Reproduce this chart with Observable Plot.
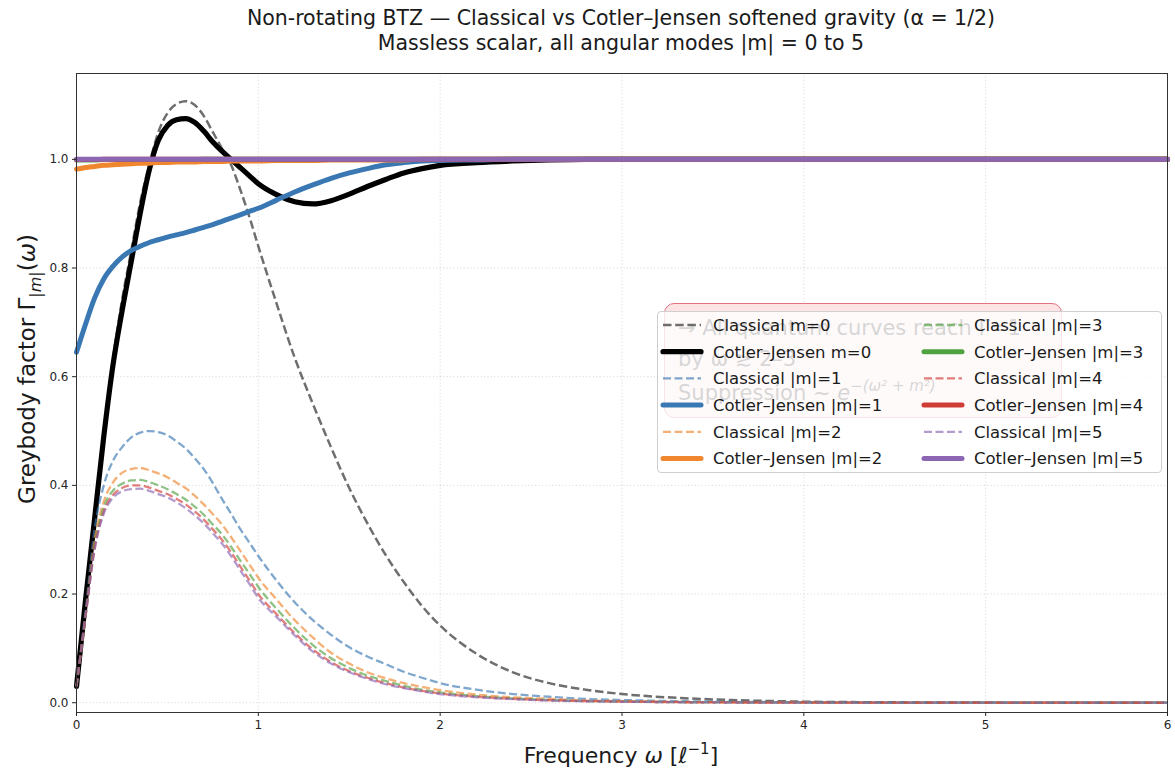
<!DOCTYPE html>
<html><head><meta charset="utf-8">
<script src="https://cdn.jsdelivr.net/npm/d3@7"></script>
<script src="https://cdn.jsdelivr.net/npm/@observablehq/plot@0.6"></script>
<style>
body{margin:0;background:#fff;font-family:"DejaVu Sans",sans-serif}
#wrap{position:relative;width:1175px;height:775px;overflow:hidden}
#note{position:absolute;left:664px;top:303px;width:398px;height:115px;border:1.5px solid #e07482;border-radius:10px;background:#fde3e3;box-sizing:border-box}
#legend{position:absolute;left:657px;top:311px;width:505px;height:162px;box-sizing:border-box;border:1px solid #cfcfcf;border-radius:4px;background:rgba(255,255,255,0.8)}
</style></head>
<body><div id="wrap"></div>
<script>
// ---------- data ----------
const omega = [0,0.05,0.1,0.15,0.2,0.25,0.3,0.35,0.4,0.45,0.5,0.55,0.6,0.65,0.7,0.75,0.8,0.85,0.9,0.95,1.0,1.1,1.2,1.3,1.4,1.5,1.6,1.7,1.8,1.9,2.0,2.2,2.4,2.6,2.8,3.0,3.3,3.6,4.0,4.5,5.0,6.0];

const classicalM0 = [0.03,0.19,0.35,0.50,0.63,0.74,0.83,0.92,0.99,1.05,1.085,1.102,1.107,1.100,1.08,1.05,1.02,0.99,0.945,0.895,0.84,0.735,0.635,0.55,0.47,0.395,0.33,0.272,0.222,0.178,0.142,0.09,0.056,0.036,0.024,0.016,0.009,0.005,0.002,0.0007,0.0002,0.0];
const cjM0 = [0.03,0.19,0.34,0.49,0.62,0.72,0.81,0.90,0.98,1.035,1.062,1.073,1.075,1.068,1.052,1.032,1.015,1.0,0.985,0.97,0.955,0.935,0.922,0.918,0.924,0.936,0.95,0.963,0.975,0.983,0.989,0.994,0.997,0.999,1.0,1.0,1.0,1.0,1.0,1.0,1.0,1.0];

const classicalM1 = [0.03,0.17,0.32,0.40,0.445,0.47,0.488,0.497,0.50,0.498,0.492,0.481,0.468,0.45,0.43,0.404,0.375,0.348,0.32,0.295,0.27,0.225,0.185,0.152,0.125,0.102,0.085,0.071,0.057,0.046,0.036,0.024,0.016,0.011,0.007,0.005,0.003,0.0018,0.001,0.0004,0.0002,0.0];
const cjM1 = [0.645,0.697,0.745,0.78,0.803,0.82,0.832,0.84,0.847,0.852,0.857,0.861,0.865,0.87,0.875,0.88,0.886,0.892,0.898,0.904,0.91,0.925,0.94,0.953,0.965,0.975,0.983,0.99,0.994,0.997,0.998,0.999,1.0,1.0,1.0,1.0,1.0,1.0,1.0,1.0,1.0,1.0];

const classicalM2 = [0.03,0.16,0.30,0.37,0.405,0.423,0.43,0.432,0.428,0.422,0.415,0.405,0.395,0.381,0.365,0.347,0.328,0.305,0.28,0.255,0.23,0.19,0.152,0.12,0.092,0.072,0.056,0.045,0.036,0.029,0.023,0.015,0.010,0.007,0.004,0.003,0.0015,0.0008,0.0004,0.0001,0.0,0.0];
const cjM2 = [0.982,0.985,0.987,0.989,0.990,0.991,0.992,0.993,0.993,0.994,0.994,0.995,0.995,0.995,0.996,0.996,0.996,0.997,0.997,0.997,0.997,0.998,0.998,0.998,0.999,0.999,0.999,0.999,0.999,1.0,1.0,1.0,1.0,1.0,1.0,1.0,1.0,1.0,1.0,1.0,1.0,1.0];

const classicalM3 = [0.03,0.16,0.29,0.36,0.39,0.403,0.409,0.41,0.406,0.40,0.393,0.384,0.374,0.361,0.346,0.328,0.31,0.287,0.262,0.238,0.213,0.173,0.137,0.106,0.082,0.064,0.05,0.04,0.031,0.024,0.019,0.012,0.008,0.005,0.003,0.002,0.001,0.0005,0.0002,0.0,0.0,0.0];
const cjM3 = [0.999,0.999,0.999,0.9995,0.9995,0.9995,0.9997,0.9997,0.9998,0.9998,0.9999,0.9999,0.9999,0.9999,1.0,1.0,1.0,1.0,1.0,1.0,1.0,1.0,1.0,1.0,1.0,1.0,1.0,1.0,1.0,1.0,1.0,1.0,1.0,1.0,1.0,1.0,1.0,1.0,1.0,1.0,1.0,1.0];

const classicalM4 = [0.03,0.16,0.285,0.352,0.382,0.395,0.40,0.40,0.396,0.39,0.384,0.375,0.365,0.352,0.337,0.319,0.30,0.277,0.251,0.226,0.20,0.163,0.128,0.098,0.075,0.058,0.046,0.036,0.028,0.022,0.017,0.011,0.007,0.0045,0.003,0.002,0.001,0.0005,0.0002,0.0,0.0,0.0];
const cjM4 = [0.9999,0.9999,0.9999,1.0,1.0,1.0,1.0,1.0,1.0,1.0,1.0,1.0,1.0,1.0,1.0,1.0,1.0,1.0,1.0,1.0,1.0,1.0,1.0,1.0,1.0,1.0,1.0,1.0,1.0,1.0,1.0,1.0,1.0,1.0,1.0,1.0,1.0,1.0,1.0,1.0,1.0,1.0];

const classicalM5 = [0.03,0.16,0.282,0.348,0.377,0.389,0.393,0.394,0.39,0.384,0.378,0.369,0.358,0.345,0.33,0.312,0.293,0.27,0.244,0.219,0.193,0.158,0.124,0.094,0.072,0.056,0.044,0.034,0.027,0.021,0.016,0.010,0.0065,0.004,0.0027,0.0018,0.0009,0.0004,0.0002,0.0,0.0,0.0];
const cjM5 = [1.0,1.0,1.0,1.0,1.0,1.0,1.0,1.0,1.0,1.0,1.0,1.0,1.0,1.0,1.0,1.0,1.0,1.0,1.0,1.0,1.0,1.0,1.0,1.0,1.0,1.0,1.0,1.0,1.0,1.0,1.0,1.0,1.0,1.0,1.0,1.0,1.0,1.0,1.0,1.0,1.0,1.0];

const seriesLabels = ["Classical m=0","Cotler–Jensen m=0","Classical |m|=1","Cotler–Jensen |m|=1","Classical |m|=2","Cotler–Jensen |m|=2","Classical |m|=3","Cotler–Jensen |m|=3","Classical |m|=4","Cotler–Jensen |m|=4","Classical |m|=5","Cotler–Jensen |m|=5"];
const seriesValues = [classicalM0,cjM0,classicalM1,cjM1,classicalM2,cjM2,classicalM3,cjM3,classicalM4,cjM4,classicalM5,cjM5];

const xTicks = [0,1,2,3,4,5,6];
const yTicks = [0,0.2,0.4,0.6,0.8,1.0];

const titleLines = ["Non-rotating BTZ — Classical vs Cotler–Jensen softened gravity (α = 1/2)","Massless scalar, all angular modes |m| = 0 to 5"];
const noteLines = ["→ All quantum curves reach Γ=1","by ω ≳ 2–3"];

// ---------- styles ----------
const modeColors = ["#000000","#3a78b4","#f0862e","#4ea240","#cf3b35","#8c66b3"];
function styleOf(i){
  const m = Math.floor(i/2), classical = i%2===0;
  if (m===0) return classical ? {stroke:"#555555", opacity:0.85, width:2.5, dash:"8.5,3.7"} : {stroke:"#000000", opacity:1, width:5.2, dash:null};
  return classical ? {stroke:modeColors[m], opacity:0.65, width:2.3, dash:"8,3.5"} : {stroke:modeColors[m], opacity:1, width:5, dash:null};
}

// ---------- chart ----------
const lineMarks = seriesValues.map((vals,i)=>{
  const s = styleOf(i);
  const pts = omega.map((w,j)=>({w, g:vals[j]}));
  return Plot.line(pts, {x:"w", y:"g", stroke:s.stroke, strokeOpacity:s.opacity, strokeWidth:s.width, strokeDasharray:s.dash||undefined, curve:"monotone-x", strokeLinecap:s.dash?"butt":"round"});
});

const chart = Plot.plot({
  width:1175, height:775,
  marginTop:73, marginBottom:63, marginLeft:76, marginRight:8,
  style:{fontFamily:"DejaVu Sans, sans-serif", fontSize:"12px", color:"#262626", background:"white"},
  x:{domain:[0,6]},
  y:{domain:[-0.018,1.158]},
  marks:[
    Plot.gridX(xTicks,{stroke:"#b0b0b0", strokeOpacity:0.45, strokeDasharray:"1.2,2.2"}),
    Plot.gridY(yTicks,{stroke:"#b0b0b0", strokeOpacity:0.45, strokeDasharray:"1.2,2.2"}),
    ...lineMarks,
    Plot.frame({stroke:"#333", strokeWidth:1}),
    Plot.axisX({ticks:xTicks, tickSize:4, tickPadding:4, tickFormat:d=>String(d), label:null}),
    Plot.axisY({ticks:yTicks, tickSize:4, tickPadding:4, tickFormat:d=>d.toFixed(1), label:null})
  ]
});
const wrap = document.getElementById("wrap");
wrap.appendChild(chart);

const svg = d3.select(chart);
// titles
titleLines.forEach((t,i)=>{
  svg.append("text").attr("x",621).attr("y",25+i*24.5).attr("text-anchor","middle")
    .attr("font-size","20.5px").attr("fill","#1a1a1a").text(t);
});
// x label
const xl = svg.append("text").attr("x",621).attr("y",763).attr("text-anchor","middle").attr("font-size","22px").attr("fill","#1a1a1a");
xl.append("tspan").text("Frequency ");
xl.append("tspan").attr("font-style","italic").text("ω");
xl.append("tspan").text(" [");
xl.append("tspan").attr("font-style","italic").text("ℓ");
xl.append("tspan").attr("font-size","15px").attr("dy","-9").text("−1");
xl.append("tspan").attr("dy","9").text("]");
// y label
const yl = svg.append("text").attr("transform","translate(35,369) rotate(-90)").attr("text-anchor","middle").attr("font-size","23px").attr("fill","#1a1a1a");
yl.append("tspan").text("Greybody factor Γ");
yl.append("tspan").attr("font-size","16px").attr("dy","6").text("|");
yl.append("tspan").attr("font-size","16px").attr("font-style","italic").text("m");
yl.append("tspan").attr("font-size","16px").text("|");
yl.append("tspan").attr("dy","-6").text("(");
yl.append("tspan").attr("font-style","italic").text("ω");
yl.append("tspan").text(")");

// annotation box (behind legend)
const note = document.createElement("div"); note.id="note"; wrap.appendChild(note);
const noteSvg = d3.select(note).append("svg").attr("width",398).attr("height",115).style("position","absolute").style("left","-1.5px").style("top","-1.5px");
noteLines.forEach((t,i)=>{
  noteSvg.append("text").attr("x",14).attr("y",32+i*31).attr("font-size","21px").attr("fill","#333").text(t);
});
const sup = noteSvg.append("text").attr("x",14).attr("y",97).attr("font-size","21px").attr("fill","#333");
sup.append("tspan").text("Suppression ~ ");
sup.append("tspan").attr("font-style","italic").text("e");
sup.append("tspan").attr("font-size","15px").attr("dy","-9").attr("font-style","italic").text("−(ω² + m²)");

// legend
const leg = document.createElement("div"); leg.id="legend"; wrap.appendChild(leg);
const legSvg = d3.select(leg).append("svg").attr("width",505).attr("height",162).style("position","absolute").style("left","-1px").style("top","-1px");
seriesLabels.forEach((lab,i)=>{
  const s = styleOf(i);
  const col = Math.floor(i/6), row = i%6;
  const x0 = col===0 ? 6 : 267;
  const y = 14 + row*26.7;
  legSvg.append("line").attr("x1",x0).attr("x2",x0+38).attr("y1",y).attr("y2",y)
    .attr("stroke",s.stroke).attr("stroke-opacity",s.opacity).attr("stroke-width",s.width)
    .attr("stroke-dasharray",s.dash).attr("stroke-linecap",s.dash?"butt":"round");
  legSvg.append("text").attr("x",x0+50).attr("y",y).attr("dy","0.36em").attr("font-size","16.5px").attr("fill","#1a1a1a").text(lab);
});
</script>
</body></html>
